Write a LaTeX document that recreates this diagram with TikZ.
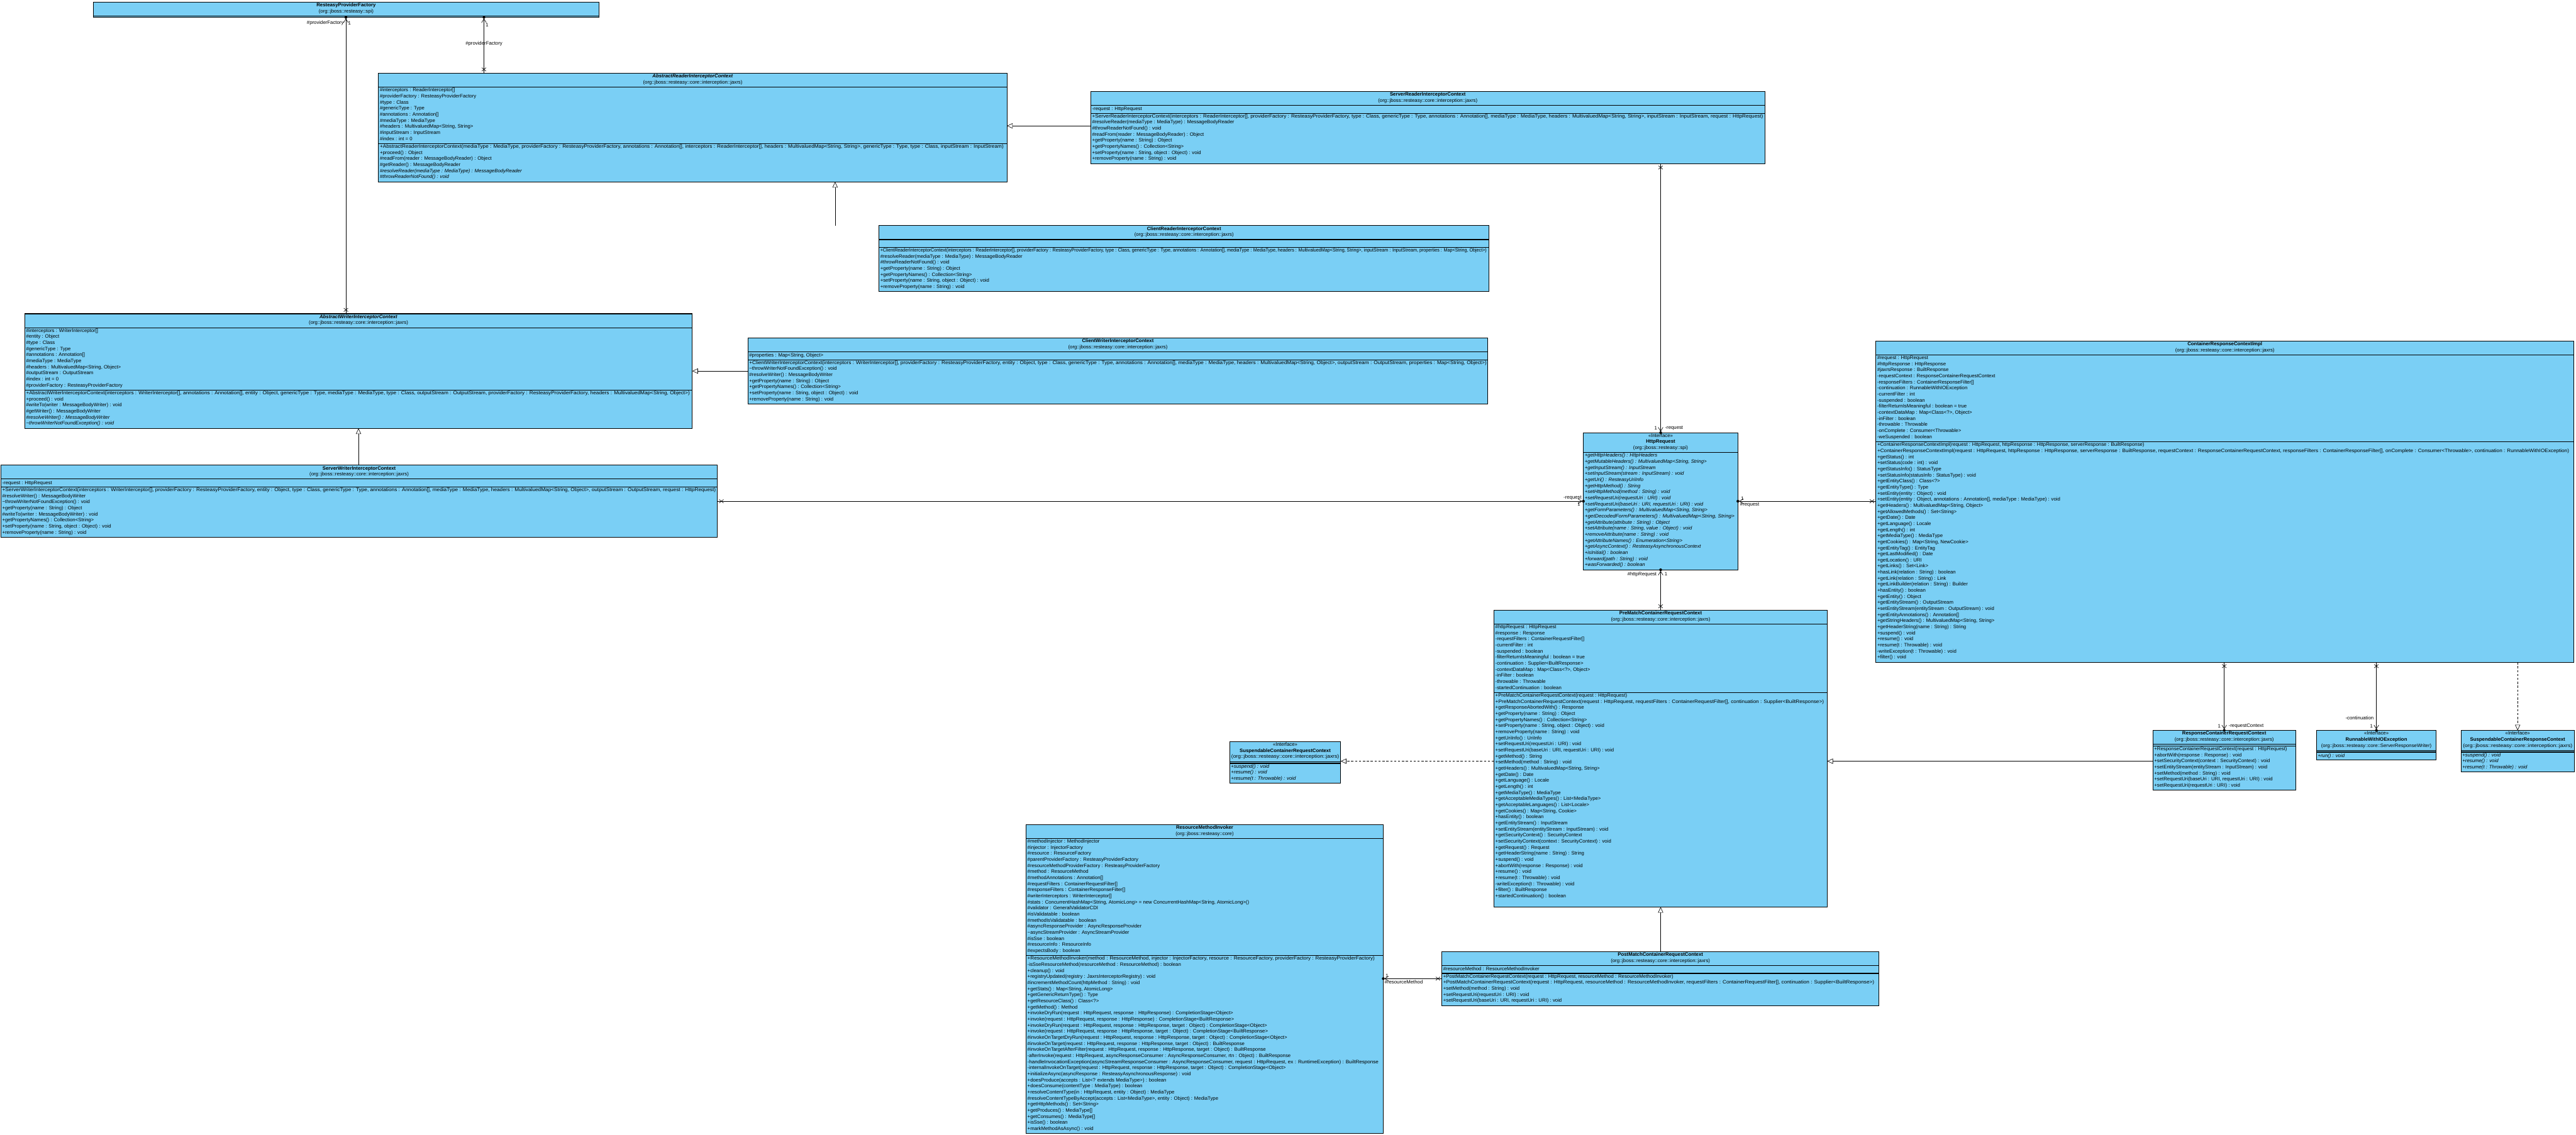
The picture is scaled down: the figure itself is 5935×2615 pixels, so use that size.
\documentclass[tikz,border=0pt]{standalone}
\usepackage{fontspec}
\usepackage{graphicx}
\setmainfont{Liberation Sans}
\usetikzlibrary{arrows.meta,calc}
\definecolor{clsfill}{RGB}{122,207,245}
\newcommand\LH{14}
\newcommand\fitw[2]{\resizebox{#1pt}{\height}{#2}}
\newcommand\umlclass[7]{%
  \pgfmathsetmacro\hA{#5*\LH+4}%
  \pgfmathsetmacro\hB{#6*\LH+4}%
  \pgfmathsetmacro\hC{#7*\LH+4}%
  \pgfmathsetmacro\hT{\hA+\hB+\hC}%
  \node[classbox, minimum width=#4pt, minimum height=\hT pt, anchor=north west] (#1) at (#2,#3) {};
  \draw[sepline] (#2,#3+\hA) -- ++(#4,0);
  \draw[sepline] (#2,#3+\hA+\hB) -- ++(#4,0);
  \coordinate (#1-h) at (#2+#4/2,#3+2);
  \coordinate (#1-a) at (#2+3,#3+\hA+2);
  \coordinate (#1-m) at (#2+3,#3+\hA+\hB+2);
}
\newcommand\umltwo[6]{%
  \pgfmathsetmacro\hA{#5*\LH+4}%
  \pgfmathsetmacro\hC{#6*\LH+4}%
  \pgfmathsetmacro\hT{\hA+\hC}%
  \node[classbox, minimum width=#4pt, minimum height=\hT pt, anchor=north west] (#1) at (#2,#3) {};
  \draw[sepline] (#2,#3+\hA) -- ++(#4,0);
  \coordinate (#1-h) at (#2+#4/2,#3+2);
  \coordinate (#1-m) at (#2+3,#3+\hA+2);
}
\newcommand\xmk[1]{\draw[conn] ($(#1)+(-5,-4)$) -- ($(#1)+(5,4)$) ($(#1)+(-5,4)$) -- ($(#1)+(5,-4)$);}
\newcommand\owndot[1]{\fill (#1) circle (3.2pt);}
\tikzset{
  classbox/.style={draw=black, line width=1.6pt, fill=clsfill, inner sep=0pt, outer sep=0pt},
  sepline/.style={draw=black, line width=1.6pt},
  txt/.style={inner sep=0pt, align=left, anchor=north west, font=\fontsize{11.3}{14}\selectfont, execute at begin node=\rule{0pt}{9.5pt}},
  ttl/.style={inner sep=0pt, align=center, anchor=north, font=\fontsize{11.3}{14}\selectfont, execute at begin node=\rule{0pt}{9.5pt}},
  lbl/.style={inner sep=1pt, font=\fontsize{11.3}{14}\selectfont},
  conn/.style={draw=black, line width=0.9pt},
  gen/.style={conn, -{Triangle[open, length=13pt, width=12pt, fill=white]}},
  real/.style={gen, dash pattern=on 5pt off 4pt},
  assoc/.style={conn, -{Straight Barb[length=9pt, width=11pt]}, shorten >=2.5pt},
}
\begin{document}
\begin{tikzpicture}[x=1pt, y=-1pt]
\useasboundingbox (0,0) rectangle (5935,2615);
\fill[white] (0,0) rectangle (5935,2615);

% ---------- ResteasyProviderFactory
\umltwo{rpf}{215}{5}{1165}{2}{-0.07}
\node[ttl] (rpf-t) at (rpf-h) {\textbf{ResteasyProviderFactory}\\(org::jboss::resteasy::spi)};

% ---------- AbstractReaderInterceptorContext
\umlclass{ar}{872}{169}{1448}{2}{9}{6}
\node[ttl] (ar-t) at (ar-h) {\textbf{\textit{AbstractReaderInterceptorContext}}\\(org::jboss::resteasy::core::interception::jaxrs)};
\node[txt] (ar-at) at (ar-a) {\#interceptors : ReaderInterceptor[]\\\#providerFactory : ResteasyProviderFactory\\\#type : Class\\\#genericType : Type\\\#annotations : Annotation[]\\\#mediaType : MediaType\\\#headers : MultivaluedMap<String, String>\\\#inputStream : InputStream\\\#index : int = 0};
\node[txt] (ar-mt) at (ar-m) {\fitw{1437}{+AbstractReaderInterceptorContext(mediaType : MediaType, providerFactory : ResteasyProviderFactory, annotations : Annotation[], interceptors : ReaderInterceptor[], headers : MultivaluedMap<String, String>, genericType : Type, type : Class, inputStream : InputStream)}\\+proceed() : Object\\\#readFrom(reader : MessageBodyReader) : Object\\\#getReader() : MessageBodyReader\\\textit{\#resolveReader(mediaType : MediaType) : MessageBodyReader}\\\textit{\#throwReaderNotFound() : void}};

% ---------- ServerReaderInterceptorContext
\umlclass{sr}{2513}{211}{1553}{2}{1}{8}
\node[ttl] (sr-t) at (sr-h) {\textbf{ServerReaderInterceptorContext}\\(org::jboss::resteasy::core::interception::jaxrs)};
\node[txt] (sr-at) at (sr-a) {-request : HttpRequest};
\node[txt] (sr-mt) at (sr-m) {\fitw{1546}{+ServerReaderInterceptorContext(interceptors : ReaderInterceptor[], providerFactory : ResteasyProviderFactory, type : Class, genericType : Type, annotations : Annotation[], mediaType : MediaType, headers : MultivaluedMap<String, String>, inputStream : InputStream, request : HttpRequest)}\\\#resolveReader(mediaType : MediaType) : MessageBodyReader\\\#throwReaderNotFound() : void\\\#readFrom(reader : MessageBodyReader) : Object\\+getProperty(name : String) : Object\\+getPropertyNames() : Collection<String>\\+setProperty(name : String, object : Object) : void\\+removeProperty(name : String) : void};

% ---------- ClientReaderInterceptorContext
\umlclass{crd}{2025}{520}{1406}{2}{1}{7}
\node[ttl] (crd-t) at (crd-h) {\textbf{ClientReaderInterceptorContext}\\(org::jboss::resteasy::core::interception::jaxrs)};
\node[txt] (crd-mt) at (crd-m) {\fitw{1397}{+ClientReaderInterceptorContext(interceptors : ReaderInterceptor[], providerFactory : ResteasyProviderFactory, type : Class, genericType : Type, annotations : Annotation[], mediaType : MediaType, headers : MultivaluedMap<String, String>, inputStream : InputStream, properties : Map<String, Object>)}\\\#resolveReader(mediaType : MediaType) : MessageBodyReader\\\#throwReaderNotFound() : void\\+getProperty(name : String) : Object\\+getPropertyNames() : Collection<String>\\+setProperty(name : String, object : Object) : void\\+removeProperty(name : String) : void};

% ---------- AbstractWriterInterceptorContext
\umlclass{aw}{57}{723}{1538}{2}{10}{6}
\node[ttl] (aw-t) at (aw-h) {\textbf{\textit{AbstractWriterInterceptorContext}}\\(org::jboss::resteasy::core::interception::jaxrs)};
\node[txt] (aw-at) at (aw-a) {\#interceptors : WriterInterceptor[]\\\#entity : Object\\\#type : Class\\\#genericType : Type\\\#annotations : Annotation[]\\\#mediaType : MediaType\\\#headers : MultivaluedMap<String, Object>\\\#outputStream : OutputStream\\\#index : int = 0\\\#providerFactory : ResteasyProviderFactory};
\node[txt] (aw-mt) at (aw-m) {\fitw{1529}{+AbstractWriterInterceptorContext(interceptors : WriterInterceptor[], annotations : Annotation[], entity : Object, genericType : Type, mediaType : MediaType, type : Class, outputStream : OutputStream, providerFactory : ResteasyProviderFactory, headers : MultivaluedMap<String, Object>)}\\+proceed() : void\\\#writeTo(writer : MessageBodyWriter) : void\\\#getWriter() : MessageBodyWriter\\\textit{\#resolveWriter() : MessageBodyWriter}\\\textit{\textasciitilde throwWriterNotFoundException() : void}};

% ---------- ClientWriterInterceptorContext
\umlclass{cw}{1723}{779}{1705}{2}{1}{7}
\node[ttl] (cw-t) at (cw-h) {\textbf{ClientWriterInterceptorContext}\\(org::jboss::resteasy::core::interception::jaxrs)};
\node[txt] (cw-at) at (cw-a) {\#properties : Map<String, Object>};
\node[txt] (cw-mt) at (cw-m) {\fitw{1699}{+ClientWriterInterceptorContext(interceptors : WriterInterceptor[], providerFactory : ResteasyProviderFactory, entity : Object, type : Class, genericType : Type, annotations : Annotation[], mediaType : MediaType, headers : MultivaluedMap<String, Object>, outputStream : OutputStream, properties : Map<String, Object>)}\\\textasciitilde throwWriterNotFoundException() : void\\\#resolveWriter() : MessageBodyWriter\\+getProperty(name : String) : Object\\+getPropertyNames() : Collection<String>\\+setProperty(name : String, object : Object) : void\\+removeProperty(name : String) : void};

% ---------- ServerWriterInterceptorContext
\umlclass{sw}{2}{1072}{1651}{2}{1}{8}
\node[ttl] (sw-t) at (sw-h) {\textbf{ServerWriterInterceptorContext}\\(org::jboss::resteasy::core::interception::jaxrs)};
\node[txt] (sw-at) at (sw-a) {-request : HttpRequest};
\node[txt] (sw-mt) at (sw-m) {\fitw{1644}{+ServerWriterInterceptorContext(interceptors : WriterInterceptor[], providerFactory : ResteasyProviderFactory, entity : Object, type : Class, genericType : Type, annotations : Annotation[], mediaType : MediaType, headers : MultivaluedMap<String, Object>, outputStream : OutputStream, request : HttpRequest)}\\\#resolveWriter() : MessageBodyWriter\\\textasciitilde throwWriterNotFoundException() : void\\+getProperty(name : String) : Object\\\#writeTo(writer : MessageBodyWriter) : void\\+getPropertyNames() : Collection<String>\\+setProperty(name : String, object : Object) : void\\+removeProperty(name : String) : void};

% ---------- HttpRequest
\umltwo{hr}{3648}{997}{356}{3}{19}
\node[ttl] (hr-t) at (hr-h) {<<Interface>>\\\textbf{HttpRequest}\\(org::jboss::resteasy::spi)};
\node[txt, font=\fontsize{11.3}{14}\selectfont\itshape] (hr-mt) at (hr-m) {+getHttpHeaders() : HttpHeaders\\+getMutableHeaders() : MultivaluedMap<String, String>\\+getInputStream() : InputStream\\+setInputStream(stream : InputStream) : void\\+getUri() : ResteasyUriInfo\\+getHttpMethod() : String\\+setHttpMethod(method : String) : void\\+setRequestUri(requestUri : URI) : void\\+setRequestUri(baseUri : URI, requestUri : URI) : void\\+getFormParameters() : MultivaluedMap<String, String>\\\fitw{345}{+getDecodedFormParameters() : MultivaluedMap<String, String>}\\+getAttribute(attribute : String) : Object\\+setAttribute(name : String, value : Object) : void\\+removeAttribute(name : String) : void\\+getAttributeNames() : Enumeration<String>\\+getAsyncContext() : ResteasyAsynchronousContext\\+isInitial() : boolean\\+forward(path : String) : void\\+wasForwarded() : boolean};

% ---------- ContainerResponseContextImpl
\umlclass{crci}{4322}{786}{1608}{2}{14}{36}
\node[ttl] (crci-t) at (crci-h) {\textbf{ContainerResponseContextImpl}\\(org::jboss::resteasy::core::interception::jaxrs)};
\node[txt] (crci-at) at (crci-a) {\#request : HttpRequest\\\#httpResponse : HttpResponse\\\#jaxrsResponse : BuiltResponse\\-requestContext : ResponseContainerRequestContext\\-responseFilters : ContainerResponseFilter[]\\-continuation : RunnableWithIOException\\-currentFilter : int\\-suspended : boolean\\-filterReturnIsMeaningful : boolean = true\\-contextDataMap : Map<Class<?>, Object>\\-inFilter : boolean\\-throwable : Throwable\\-onComplete : Consumer<Throwable>\\-weSuspended : boolean};
\node[txt] (crci-mt) at (crci-m) {+ContainerResponseContextImpl(request : HttpRequest, httpResponse : HttpResponse, serverResponse : BuiltResponse)\\\fitw{1594}{+ContainerResponseContextImpl(request : HttpRequest, httpResponse : HttpResponse, serverResponse : BuiltResponse, requestContext : ResponseContainerRequestContext, responseFilters : ContainerResponseFilter[], onComplete : Consumer<Throwable>, continuation : RunnableWithIOException)}\\+getStatus() : int\\+setStatus(code : int) : void\\+getStatusInfo() : StatusType\\+setStatusInfo(statusInfo : StatusType) : void\\+getEntityClass() : Class<?>\\+getEntityType() : Type\\+setEntity(entity : Object) : void\\+setEntity(entity : Object, annotations : Annotation[], mediaType : MediaType) : void\\+getHeaders() : MultivaluedMap<String, Object>\\+getAllowedMethods() : Set<String>\\+getDate() : Date\\+getLanguage() : Locale\\+getLength() : int\\+getMediaType() : MediaType\\+getCookies() : Map<String, NewCookie>\\+getEntityTag() : EntityTag\\+getLastModified() : Date\\+getLocation() : URI\\+getLinks() : Set<Link>\\+hasLink(relation : String) : boolean\\+getLink(relation : String) : Link\\+getLinkBuilder(relation : String) : Builder\\+hasEntity() : boolean\\+getEntity() : Object\\+getEntityStream() : OutputStream\\+setEntityStream(entityStream : OutputStream) : void\\+getEntityAnnotations() : Annotation[]\\+getStringHeaders() : MultivaluedMap<String, String>\\+getHeaderString(name : String) : String\\+suspend() : void\\+resume() : void\\+resume(t : Throwable) : void\\-writeException(t : Throwable) : void\\+filter() : void};

% ---------- PreMatchContainerRequestContext
\umlclass{pm}{3442}{1406}{768}{2}{11}{35}
\node[ttl] (pm-t) at (pm-h) {\textbf{PreMatchContainerRequestContext}\\(org::jboss::resteasy::core::interception::jaxrs)};
\node[txt] (pm-at) at (pm-a) {\#httpRequest : HttpRequest\\\#response : Response\\-requestFilters : ContainerRequestFilter[]\\-currentFilter : int\\-suspended : boolean\\-filterReturnIsMeaningful : boolean = true\\-continuation : Supplier<BuiltResponse>\\-contextDataMap : Map<Class<?>, Object>\\-inFilter : boolean\\-throwable : Throwable\\-startedContinuation : boolean};
\node[txt] (pm-mt) at (pm-m) {+PreMatchContainerRequestContext(request : HttpRequest)\\\fitw{757}{+PreMatchContainerRequestContext(request : HttpRequest, requestFilters : ContainerRequestFilter[], continuation : Supplier<BuiltResponse>)}\\+getResponseAbortedWith() : Response\\+getProperty(name : String) : Object\\+getPropertyNames() : Collection<String>\\+setProperty(name : String, object : Object) : void\\+removeProperty(name : String) : void\\+getUriInfo() : UriInfo\\+setRequestUri(requestUri : URI) : void\\+setRequestUri(baseUri : URI, requestUri : URI) : void\\+getMethod() : String\\+setMethod(method : String) : void\\+getHeaders() : MultivaluedMap<String, String>\\+getDate() : Date\\+getLanguage() : Locale\\+getLength() : int\\+getMediaType() : MediaType\\+getAcceptableMediaTypes() : List<MediaType>\\+getAcceptableLanguages() : List<Locale>\\+getCookies() : Map<String, Cookie>\\+hasEntity() : boolean\\+getEntityStream() : InputStream\\+setEntityStream(entityStream : InputStream) : void\\+getSecurityContext() : SecurityContext\\+setSecurityContext(context : SecurityContext) : void\\+getRequest() : Request\\+getHeaderString(name : String) : String\\+suspend() : void\\+abortWith(response : Response) : void\\+resume() : void\\+resume(t : Throwable) : void\\-writeException(t : Throwable) : void\\+filter() : BuiltResponse\\+startedContinuation() : boolean};

% ---------- SuspendableContainerRequestContext
\umlclass{sqc}{2833}{1709}{256}{3}{0}{3}
\node[ttl] (sqc-t) at (sqc-h) {<<Interface>>\\\textbf{SuspendableContainerRequestContext}\\\fitw{248}{(org::jboss::resteasy::core::interception::jaxrs)}};
\node[txt, font=\fontsize{11.3}{14}\selectfont\itshape] (sqc-mt) at (sqc-m) {+suspend() : void\\+resume() : void\\+resume(t : Throwable) : void};

% ---------- ResponseContainerRequestContext
\umlclass{rcrc}{4960}{1683}{329}{2}{0}{7}
\node[ttl] (rcrc-t) at (rcrc-h) {\textbf{ResponseContainerRequestContext}\\(org::jboss::resteasy::core::interception::jaxrs)};
\node[txt] (rcrc-mt) at (rcrc-m) {+ResponseContainerRequestContext(request : HttpRequest)\\+abortWith(response : Response) : void\\+setSecurityContext(context : SecurityContext) : void\\+setEntityStream(entityStream : InputStream) : void\\+setMethod(method : String) : void\\+setRequestUri(baseUri : URI, requestUri : URI) : void\\+setRequestUri(requestUri : URI) : void};

% ---------- RunnableWithIOException
\umlclass{rwio}{5337}{1683}{276}{3}{0}{1}
\node[ttl] (rwio-t) at (rwio-h) {<<Interface>>\\\textbf{RunnableWithIOException}\\(org::jboss::resteasy::core::ServerResponseWriter)};
\node[txt, font=\fontsize{11.3}{14}\selectfont\itshape] (rwio-mt) at (rwio-m) {+run() : void};

% ---------- SuspendableContainerResponseContext
\umlclass{scrs}{5670}{1683}{261}{3}{0}{3}
\node[ttl] (scrs-t) at (scrs-h) {<<Interface>>\\\textbf{SuspendableContainerResponseContext}\\\fitw{252}{(org::jboss::resteasy::core::interception::jaxrs)}};
\node[txt, font=\fontsize{11.3}{14}\selectfont\itshape] (scrs-mt) at (scrs-m) {+suspend() : void\\+resume() : void\\+resume(t : Throwable) : void};

% ---------- ResourceMethodInvoker
\umlclass{rmi}{2364}{1900}{823}{2}{19}{29}
\node[ttl] (rmi-t) at (rmi-h) {\textbf{ResourceMethodInvoker}\\(org::jboss::resteasy::core)};
\node[txt] (rmi-at) at (rmi-a) {\#methodInjector : MethodInjector\\\#injector : InjectorFactory\\\#resource : ResourceFactory\\\#parentProviderFactory : ResteasyProviderFactory\\\#resourceMethodProviderFactory : ResteasyProviderFactory\\\#method : ResourceMethod\\\#methodAnnotations : Annotation[]\\\#requestFilters : ContainerRequestFilter[]\\\#responseFilters : ContainerResponseFilter[]\\\#writerInterceptors : WriterInterceptor[]\\\#stats : ConcurrentHashMap<String, AtomicLong> = new ConcurrentHashMap<String, AtomicLong>()\\\#validator : GeneralValidatorCDI\\\#isValidatable : boolean\\\#methodIsValidatable : boolean\\\#asyncResponseProvider : AsyncResponseProvider\\\textasciitilde asyncStreamProvider : AsyncStreamProvider\\\#isSse : boolean\\\#resourceInfo : ResourceInfo\\\#expectsBody : boolean};
\node[txt] (rmi-mt) at (rmi-m) {\fitw{800}{+ResourceMethodInvoker(method : ResourceMethod, injector : InjectorFactory, resource : ResourceFactory, providerFactory : ResteasyProviderFactory)}\\-isSseResourceMethod(resourceMethod : ResourceMethod) : boolean\\+cleanup() : void\\+registryUpdated(registry : JaxrsInterceptorRegistry) : void\\\#incrementMethodCount(httpMethod : String) : void\\+getStats() : Map<String, AtomicLong>\\+getGenericReturnType() : Type\\+getResourceClass() : Class<?>\\+getMethod() : Method\\+invokeDryRun(request : HttpRequest, response : HttpResponse) : CompletionStage<Object>\\+invoke(request : HttpRequest, response : HttpResponse) : CompletionStage<BuiltResponse>\\+invokeDryRun(request : HttpRequest, response : HttpResponse, target : Object) : CompletionStage<Object>\\+invoke(request : HttpRequest, response : HttpResponse, target : Object) : CompletionStage<BuiltResponse>\\\#invokeOnTargetDryRun(request : HttpRequest, response : HttpResponse, target : Object) : CompletionStage<Object>\\\#invokeOnTarget(request : HttpRequest, response : HttpResponse, target : Object) : BuiltResponse\\\#invokeOnTargetAfterFilter(request : HttpRequest, response : HttpResponse, target : Object) : BuiltResponse\\-afterInvoke(request : HttpRequest, asyncResponseConsumer : AsyncResponseConsumer, rtn : Object) : BuiltResponse\\\fitw{809}{-handleInvocationException(asyncStreamResponseConsumer : AsyncResponseConsumer, request : HttpRequest, ex : RuntimeException) : BuiltResponse}\\-internalInvokeOnTarget(request : HttpRequest, response : HttpResponse, target : Object) : CompletionStage<Object>\\+initializeAsync(asyncResponse : ResteasyAsynchronousResponse) : void\\+doesProduce(accepts : List<? extends MediaType>) : boolean\\+doesConsume(contentType : MediaType) : boolean\\+resolveContentType(in : HttpRequest, entity : Object) : MediaType\\\#resolveContentTypeByAccept(accepts : List<MediaType>, entity : Object) : MediaType\\+getHttpMethods() : Set<String>\\+getProduces() : MediaType[]\\+getConsumes() : MediaType[]\\+isSse() : boolean\\+markMethodAsAsync() : void};

% ---------- PostMatchContainerRequestContext
\umlclass{pom}{3322}{2193}{1007}{2}{1}{5}
\node[ttl] (pom-t) at (pom-h) {\textbf{PostMatchContainerRequestContext}\\(org::jboss::resteasy::core::interception::jaxrs)};
\node[txt] (pom-at) at (pom-a) {\#resourceMethod : ResourceMethodInvoker};
\node[txt] (pom-mt) at (pom-m) {+PostMatchContainerRequestContext(request : HttpRequest, resourceMethod : ResourceMethodInvoker)\\\fitw{993}{+PostMatchContainerRequestContext(request : HttpRequest, resourceMethod : ResourceMethodInvoker, requestFilters : ContainerRequestFilter[], continuation : Supplier<BuiltResponse>)}\\+setMethod(method : String) : void\\+setRequestUri(requestUri : URI) : void\\+setRequestUri(baseUri : URI, requestUri : URI) : void};

% ================= connectors
\coordinate (c797) at (797,0);
\coordinate (c1115) at (1115,0);
\coordinate (c1924) at (1924,0);
\coordinate (c826) at (826,0);
\coordinate (y290) at (0,290);
\coordinate (y855) at (0,855);
\coordinate (y1155) at (0,1155);
\coordinate (y1754) at (0,1754);
\coordinate (y2255) at (0,2255);

% providerFactory associations
\draw[assoc] (aw.north -| c797) -- (rpf.south -| c797);
\owndot{rpf.south -| c797}
\coordinate (x1) at ($(aw.north -| c797)+(0,-9)$); \xmk{x1}
\node[lbl, anchor=east] (l1) at ($(rpf.south -| c797)+(-4,13)$) {\#providerFactory};
\node[lbl, anchor=west] (l2) at ($(rpf.south -| c797)+(4,13)$) {1};

\draw[assoc] (ar.north -| c1115) -- (rpf.south -| c1115);
\owndot{rpf.south -| c1115}
\coordinate (x2) at ($(ar.north -| c1115)+(0,-9)$); \xmk{x2}
\node[lbl, anchor=west] (l3) at ($(rpf.south -| c1115)+(3,17)$) {1};
\node[lbl] (l4) at ($(rpf.south -| c1115)+(0,61)$) {\#providerFactory};

% generalizations (reader / writer)
\draw[gen] (sr.west |- y290) -- (ar.east |- y290);
\draw[gen] (crd.north -| c1924) -- (ar.south -| c1924);
\draw[gen] (cw.west |- y855) -- (aw.east |- y855);
\draw[gen] (sw.north -| c826) -- (aw.south -| c826);

% request associations to HttpRequest
\draw[assoc] (sr.south -| hr.north) -- (hr.north);
\owndot{hr.north}
\coordinate (x3) at ($(sr.south -| hr.north)+(0,9)$); \xmk{x3}
\node[lbl, anchor=east] (l5) at ($(hr.north)+(-7,-10)$) {1};
\node[lbl, anchor=west] (l6) at ($(hr.north)+(9,-10)$) {-request};

\draw[assoc] (sw.east |- y1155) -- (hr.west |- y1155);
\owndot{hr.west |- y1155}
\coordinate (x4) at ($(sw.east |- y1155)+(9,0)$); \xmk{x4}
\node[lbl, anchor=south east] (l7) at ($(hr.west |- y1155)+(-3,-1)$) {-request};
\node[lbl, anchor=north east] (l8) at ($(hr.west |- y1155)+(-6,2)$) {1};

\draw[assoc] (crci.west |- y1155) -- (hr.east |- y1155);
\owndot{hr.east |- y1155}
\coordinate (x5) at ($(crci.west |- y1155)+(-9,0)$); \xmk{x5}
\node[lbl, anchor=south west] (l9) at ($(hr.east |- y1155)+(6,-1)$) {1};
\node[lbl, anchor=north west] (l10) at ($(hr.east |- y1155)+(4,2)$) {\#request};

\draw[assoc] (pm.north -| hr.south) -- (hr.south);
\owndot{hr.south}
\coordinate (x6) at ($(pm.north -| hr.south)+(0,-9)$); \xmk{x6}
\node[lbl, anchor=east] (l11) at ($(hr.south)+(-8,10)$) {\#httpRequest};
\node[lbl, anchor=west] (l12) at ($(hr.south)+(8,10)$) {1};

% request contexts
\draw[real] (pm.west |- y1754) -- (sqc.east |- y1754);
\draw[gen] (rcrc.west |- y1754) -- (pm.east |- y1754);
\draw[gen] (pom.north -| pm.south) -- (pm.south);

\draw[assoc] (pom.west |- y2255) -- (rmi.east |- y2255);
\owndot{rmi.east |- y2255}
\coordinate (x7) at ($(pom.west |- y2255)+(-9,0)$); \xmk{x7}
\node[lbl, anchor=south west] (l13) at ($(rmi.east |- y2255)+(4,-2)$) {1};
\node[lbl, anchor=north west] (l14) at ($(rmi.east |- y2255)+(2,3)$) {\#resourceMethod};

% response context
\draw[assoc] (crci.south -| rcrc.north) -- (rcrc.north);
\owndot{rcrc.north}
\coordinate (x8) at ($(crci.south -| rcrc.north)+(0,9)$); \xmk{x8}
\node[lbl, anchor=east] (l15) at ($(rcrc.north)+(-7,-10)$) {1};
\node[lbl, anchor=west] (l16) at ($(rcrc.north)+(9,-10)$) {-requestContext};

\draw[assoc] (crci.south -| rwio.north) -- (rwio.north);
\owndot{rwio.north}
\coordinate (x9) at ($(crci.south -| rwio.north)+(0,9)$); \xmk{x9}
\node[lbl, anchor=east] (l17) at ($(rwio.north)+(-5,-28)$) {-continuation};
\node[lbl, anchor=east] (l18) at ($(rwio.north)+(-7,-10)$) {1};

\draw[real] (crci.south -| scrs.north) -- (scrs.north);
\end{tikzpicture}
\end{document}
